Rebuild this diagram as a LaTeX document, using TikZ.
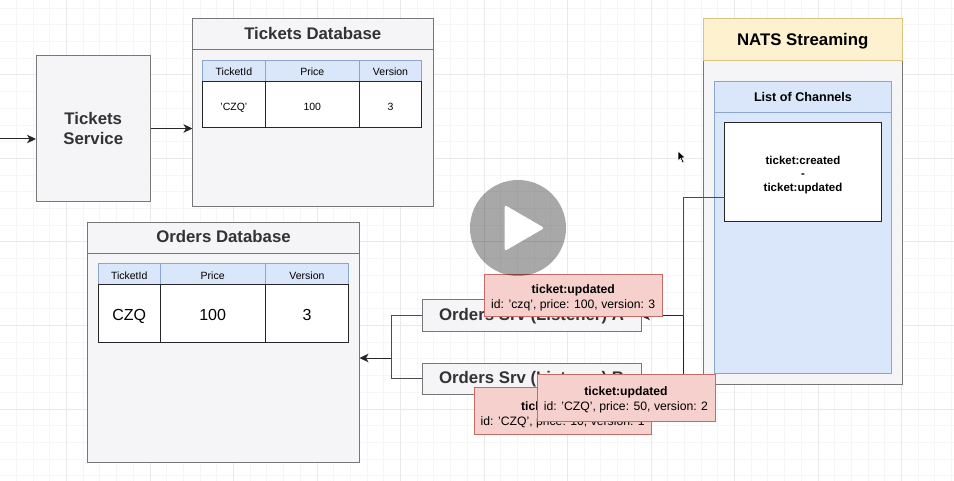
\documentclass[tikz,border=0pt]{standalone}
\usepackage{fontspec}
\setmainfont{Liberation Sans}
\usetikzlibrary{arrows.meta, positioning}
\definecolor{cgrid}{HTML}{F6F6F6}
\definecolor{cgridmajor}{HTML}{E9E9E9}
\definecolor{cpanel}{HTML}{F5F4F6}
\definecolor{cline}{HTML}{777777}
\definecolor{ctext}{HTML}{333333}
\definecolor{cblue}{HTML}{DAE6F9}
\definecolor{cblueline}{HTML}{8CA5CC}
\definecolor{cyellow}{HTML}{FDF1CF}
\definecolor{cyellowline}{HTML}{DCC27E}
\definecolor{cred}{HTML}{F6D0CC}
\definecolor{credline}{HTML}{C56A64}
\tikzset{
  every node/.style={outer sep=0pt, inner sep=0pt},
  panel/.style={draw=cline, fill=cpanel, line width=1pt, text=ctext, align=center, anchor=north west, font=\bfseries\fontsize{16.8}{20}\selectfont},
  title/.style={panel, text height=12pt, text depth=2pt},
  head/.style={draw=cblueline, fill=cblue, line width=1pt, anchor=north west, font=\fontsize{10.5}{12}\selectfont},
  cell/.style={draw=black!85, fill=white, line width=1pt, anchor=north west, font=\fontsize{10.5}{12}\selectfont},
  message/.style={draw=credline, fill=cred, line width=1pt, align=center, anchor=north west, font=\fontsize{12.2}{15}\selectfont},
  arrow/.style={-{Stealth[length=9pt, width=8.5pt, inset=2.5pt]}, draw=black!85, line width=1pt},
  wire/.style={draw=black!70, line width=1pt},
}
\begin{document}
\begin{tikzpicture}[x=1pt, y=-1pt]
  \useasboundingbox (0,0) rectangle (954,481);
  \fill[white] (0,0) rectangle (954,481);
  \foreach \i in {0,...,57}
    \draw[cgrid, line width=1pt] ({\i*16.7-0.3},0) -- ({\i*16.7-0.3},481);
  \foreach \i in {0,...,29}
    \draw[cgrid, line width=1pt] (0,{\i*16.7+8.2}) -- (954,{\i*16.7+8.2});
  \foreach \i in {0,...,11}
    \draw[cgridmajor, line width=1pt] ({\i*83.5-17},0) -- ({\i*83.5-17},481);
  \foreach \i in {0,...,5}
    \draw[cgridmajor, line width=1pt] (0,{\i*83.5-8.5}) -- (954,{\i*83.5-8.5});

  % services and databases
  \node[panel, minimum width=114.5pt, minimum height=146pt] (service) at (36,55.5) {Tickets\\Service};
  \node[panel, minimum width=240.5pt, minimum height=188pt] (ticketsdb) at (192.5,19) {};
  \node[title, minimum width=240.5pt, minimum height=31pt] (ticketstitle) at (192.5,19) {Tickets Database};
  \foreach \n/\x/\w/\t/\v in {a/202.5/62.8/TicketId/'CZQ', b/265.3/94/Price/100, c/359.3/62.4/Version/3} {
    \node[head, minimum width=\w pt, minimum height=21pt, text height=10pt, text depth=0pt] (thead\n) at (\x,60.5) {\t};
    \node[cell, minimum width=\w pt, minimum height=46.5pt, text height=12pt, text depth=0pt] (tcell\n) at (\x,81.5) {\v};
  }
  \node[panel, minimum width=272pt, minimum height=240pt] (ordersdb) at (87.5,222.5) {};
  \node[title, minimum width=272pt, minimum height=31pt] (orderstitle) at (87.5,222.5) {Orders Database};
  \foreach \n/\x/\w/\t/\v in {a/98.2/62/TicketId/CZQ, b/160.2/105/Price/100, c/265.2/83.5/Version/3} {
    \node[head, minimum width=\w pt, minimum height=21pt, text height=10pt, text depth=0pt] (ohead\n) at (\x,264) {\t};
    \node[cell, minimum width=\w pt, minimum height=57.5pt, text height=14pt, text depth=0pt, font=\fontsize{16}{19}\selectfont] (ocell\n) at (\x,285) {\v};
  }

  % channels
  \node[panel, minimum width=198.5pt, minimum height=365pt] (nats) at (703.5,19) {};
  \node[panel, draw=cyellowline, fill=cyellow, text=black, minimum width=198.5pt, minimum height=41.5pt, text height=12pt, text depth=0pt] (natstitle) at (703.5,19) {NATS Streaming};
  \node[head, minimum width=177pt, minimum height=292pt] (channels) at (714.5,81.5) {};
  \node[head, minimum width=177pt, minimum height=31pt, font=\bfseries\fontsize{12.6}{14}\selectfont] (channelstitle) at (714.5,81.5) {List of Channels};
  \node[cell, align=center, minimum width=157pt, minimum height=99pt, font=\bfseries\fontsize{11.5}{13.5}\selectfont] (list) at (724.5,123) {\rule{0pt}{13pt}ticket:created\\-\\ticket:updated};

  % listeners
  \node[title, minimum width=219pt, minimum height=32pt] (srva) at (422,300) {Orders Srv (Listener) A};
  \node[title, minimum width=219pt, minimum height=31.5pt] (srvb) at (422,363) {Orders Srv (Listener) B};

  \coordinate (input) at (0,139);
  \coordinate (bus) at (683,316);
  \coordinate (join) at (391,358);
  \draw[arrow] (input) -- (input -| service.west);
  \draw[arrow] (service.east |- 0,128.5) -- (ticketsdb.west |- 0,128.5);
  \draw[wire] (list.west |- 0,197.5) -| (bus);
  \draw[arrow] (bus) -- (srva.east);
  \draw[arrow] (bus) |- (srvb.east);
  \draw[wire] (srva.west) -| (join);
  \draw[wire] (srvb.west) -| (join);
  \draw[arrow] (join) -- (ordersdb.east |- join);

  % events
  \node[message, minimum width=177.5pt, minimum height=42pt] (eventa) at (484.5,274.5) {\rule{0pt}{14pt}\textbf{ticket:updated}\\id: 'czq', price: 100, version: 3};
  \node[message, minimum width=177.5pt, minimum height=47pt] (eventc) at (474,387) {\rule{0pt}{18pt}\textbf{ticket:updated}\\id: 'CZQ', price: 10, version: 1};
  \node[message, minimum width=178pt, minimum height=47pt] (eventb) at (537,374) {\rule{0pt}{14pt}\textbf{ticket:updated}\\id: 'CZQ', price: 50, version: 2};

  % video overlay
  \fill[black, opacity=0.34] (518,228) circle (48);
  \fill[white, draw=white, line width=3pt, line join=round] (506,207.5) -- (541.5,228) -- (506,248.5) -- cycle;
  \fill[black, draw=white, line width=0.5pt] (678,151) -- (678,161) -- (680.5,158.5) -- (682.5,163) -- (684,162) -- (682,158) -- (685,157.5) -- cycle;
\end{tikzpicture}
\end{document}
